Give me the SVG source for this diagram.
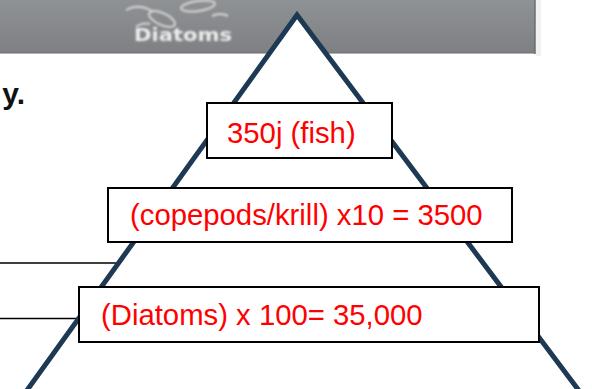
<svg xmlns="http://www.w3.org/2000/svg" width="592" height="389" viewBox="0 0 592 389">
  <defs>
    <linearGradient id="bandFill" x1="0" y1="0" x2="0" y2="1">
      <stop offset="0" stop-color="#8f9295"/>
      <stop offset="1" stop-color="#7e8083"/>
    </linearGradient>
    <filter id="soft" x="-10%" y="-20%" width="120%" height="140%">
      <feGaussianBlur stdDeviation="0.8"/>
    </filter>
  </defs>
  <style>
    .box { fill: #ffffff; stroke: #000000; stroke-width: 2; }
    .label { font-family: "Liberation Sans", Arial, sans-serif; font-size: 29.3px; fill: #ff0000; }
    .leader { stroke: #000000; stroke-width: 1.6; fill: none; }
    .pyramid { fill: #ffffff; stroke: #1d3954; stroke-width: 5; stroke-linejoin: miter; }
  </style>

  <rect width="592" height="389" fill="#ffffff"/>

  <!-- grey photo band across the top -->
  <g id="photo-band">
    <rect x="0" y="0" width="535" height="53" fill="url(#bandFill)"/>
    <line x1="0" y1="53" x2="535" y2="53" stroke="#6a6c6e" stroke-width="1.2"/>
    <line x1="535" y1="0" x2="535" y2="54" stroke="#6a6c6e" stroke-width="1.5"/>
    <rect x="536" y="0" width="5" height="56" fill="#e6e6e6" opacity="0.6"/>
    <g filter="url(#soft)" fill="none" stroke="#d6d6d6" stroke-width="2">
      <ellipse cx="162" cy="19" rx="14" ry="6" transform="rotate(25 162 19)"/>
      <ellipse cx="198" cy="6" rx="17" ry="5" transform="rotate(-8 198 6)"/>
      <path d="M126 10 q12 -7 26 1"/>
      <path d="M212 16 q8 -4 16 0"/>
      <path d="M150 24 q-8 -2 -14 3"/>
    </g>
    <text x="134" y="41" textLength="98" lengthAdjust="spacingAndGlyphs" font-family="DejaVu Sans, Verdana, sans-serif" font-weight="bold" font-size="17" fill="#ececec" filter="url(#soft)">Diatoms</text>
  </g>

  <!-- tail of a sentence cut by the left edge -->
  <text x="25" y="104" text-anchor="end" font-family="Liberation Sans, Arial, sans-serif" font-weight="bold" font-size="30" fill="#111111">y.</text>

  <!-- leader lines on the left -->
  <g id="connectors">
    <line class="leader" x1="0" y1="263" x2="118" y2="263"/>
    <line class="leader" x1="0" y1="318.5" x2="80" y2="318.5"/>
  </g>

  <!-- energy pyramid outline -->
  <g id="pyramid">
    <path class="pyramid" d="M20 400 L297 15 L586 400"/>
  </g>

  <g id="level-fish">
    <rect class="box" x="207" y="103" width="185" height="55"/>
    <text class="label" x="227" y="143">350j (fish)</text>
  </g>

  <g id="level-copepods">
    <rect class="box" x="108" y="188" width="404" height="54"/>
    <text class="label" x="130" y="225">(copepods/krill) x10 = 3500</text>
  </g>

  <g id="level-diatoms">
    <rect class="box" x="79" y="287" width="460" height="55"/>
    <text class="label" x="101" y="325">(Diatoms) x 100= 35,000</text>
  </g>
</svg>
